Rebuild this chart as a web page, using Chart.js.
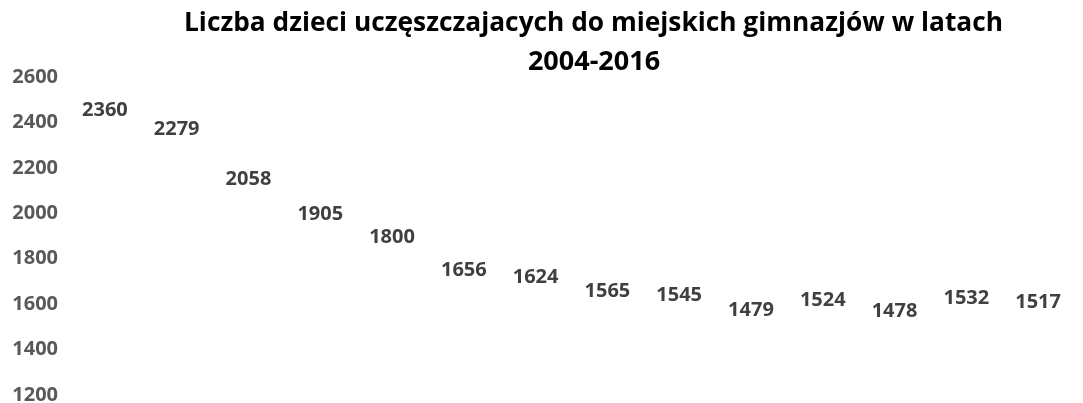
<!DOCTYPE html>
<html>
<head>
<meta charset="utf-8">
<script src="https://cdn.jsdelivr.net/npm/chart.js@4/dist/chart.umd.min.js"></script>
<style>
  html, body { margin: 0; padding: 0; background: #ffffff; }
  #wrap { width: 1083px; height: 403px; }
</style>
</head>
<body>
<div id="wrap"><canvas id="c" width="1083" height="403"></canvas></div>
<script>
const TITLE_LINES = ["Liczba dzieci uczęszczajacych do miejskich gimnazjów w latach", "2004-2016"];
const YEARS = ["2003", "2004", "2005", "2006", "2007", "2008", "2009", "2010", "2011", "2012", "2013", "2014", "2015", "2016"];
const PUPILS = [2360, 2279, 2058, 1905, 1800, 1656, 1624, 1565, 1545, 1479, 1524, 1478, 1532, 1517];
const Y_TICKS = [1200, 1400, 1600, 1800, 2000, 2200, 2400, 2600];

const FONT = "'Open Sans', 'Noto Sans', 'Liberation Sans', sans-serif";

const valueLabels = {
  id: 'valueLabels',
  afterDatasetsDraw(chart) {
    const ctx = chart.ctx;
    const meta = chart.getDatasetMeta(0);
    const data = chart.data.datasets[0].data;
    ctx.save();
    ctx.font = "bold 20px " + FONT;
    ctx.fillStyle = '#404040';
    ctx.textAlign = 'center';
    ctx.textBaseline = 'middle';
    meta.data.forEach((pt, i) => {
      ctx.fillText(String(data[i]), pt.x, pt.y - 21);
    });
    ctx.restore();
  }
};

const titlePlugin = {
  id: 'twoLineTitle',
  afterDraw(chart) {
    const ctx = chart.ctx;
    ctx.save();
    ctx.fillStyle = '#000000';
    ctx.textAlign = 'center';
    ctx.textBaseline = 'middle';
    ctx.font = "bold 27px " + FONT;
    const w = ctx.measureText(TITLE_LINES[0]).width;
    const sx = Math.min(1, 819 / w);
    ctx.save();
    ctx.translate(593.5, 0);
    ctx.scale(sx, 1);
    ctx.fillText(TITLE_LINES[0], 0, 23);
    ctx.restore();
    ctx.fillText(TITLE_LINES[1], 594, 62);
    ctx.restore();
  }
};

new Chart(document.getElementById('c'), {
  type: 'line',
  data: {
    labels: YEARS,
    datasets: [{
      label: 'Liczba dzieci',
      data: PUPILS,
      showLine: false,
      pointRadius: 0,
      pointHoverRadius: 0,
      borderColor: 'rgba(0,0,0,0)',
      backgroundColor: 'rgba(0,0,0,0)'
    }]
  },
  options: {
    responsive: false,
    animation: false,
    layout: { padding: { left: 8, right: 9, top: 77, bottom: 8 } },
    plugins: {
      legend: { display: false },
      title: { display: false },
      tooltip: { enabled: false }
    },
    scales: {
      x: {
        display: false,
        offset: true
      },
      y: {
        min: Y_TICKS[0],
        max: Y_TICKS[Y_TICKS.length - 1],
        afterBuildTicks(scale) {
          scale.ticks = Y_TICKS.map(v => ({ value: v }));
        },
        afterFit(scale) {
          scale.width = 61;
          scale.paddingTop = 0;
          scale.paddingBottom = 0;
        },
        grid: { display: false, drawTicks: false },
        border: { display: false },
        ticks: {
          padding: 11,
          color: '#595959',
          callback: (v) => String(v),
          font: { family: FONT, size: 20, weight: 'bold', lineHeight: 1 }
        }
      }
    }
  },
  plugins: [valueLabels, titlePlugin]
});
</script>
</body>
</html>
